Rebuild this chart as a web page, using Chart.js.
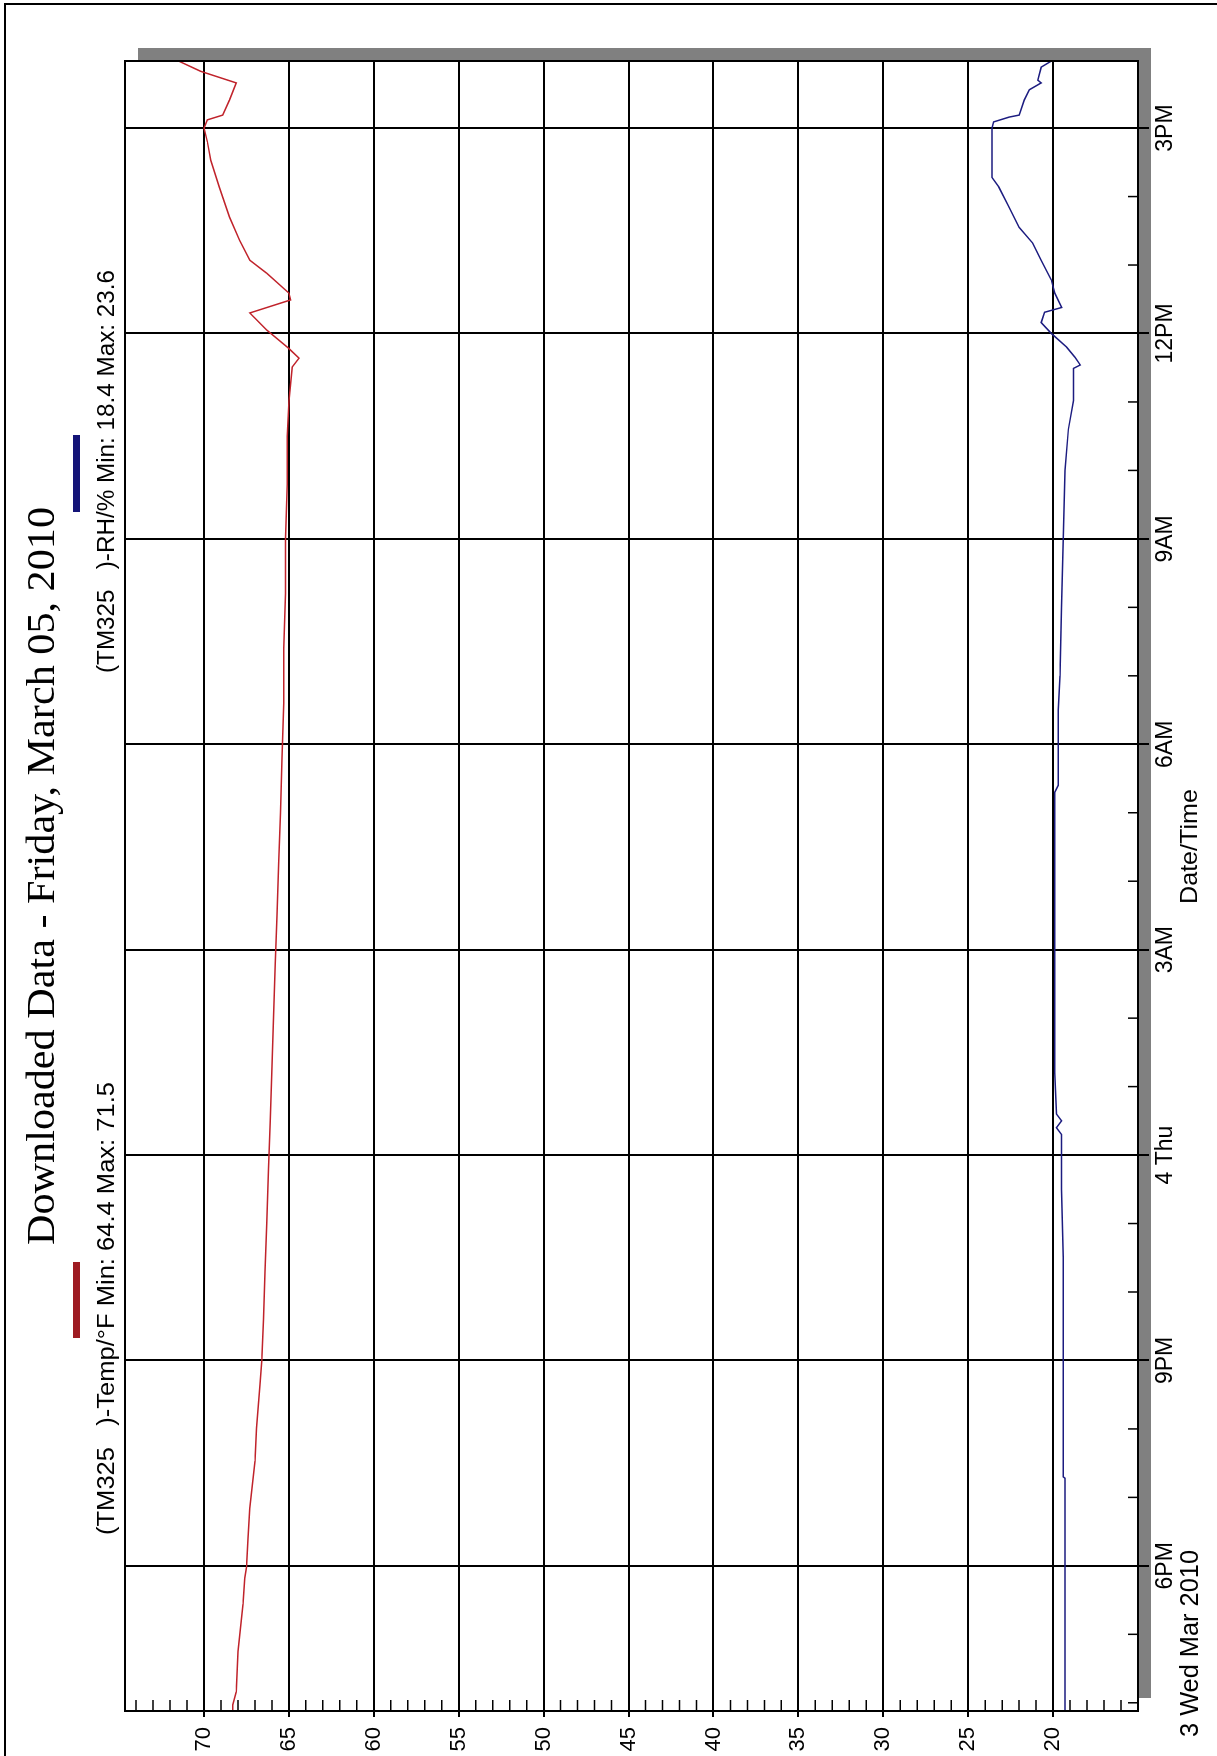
<!DOCTYPE html>
<html>
<head>
<meta charset="utf-8">
<script src="https://cdn.jsdelivr.net/npm/chart.js@4.4.1/dist/chart.umd.min.js"></script>
<style>
  html, body { margin: 0; padding: 0; background: #fff; overflow: hidden; }
  body { width: 1217px; height: 1756px; position: relative; }
  #wrap { position: absolute; left: 0; top: 0; width: 1756px; height: 1217px;
          transform-origin: 0 0; transform: translate(0, 1756px) rotate(-90deg); }
  #frame-left { position: absolute; left: 4px; top: 3px; width: 2px; height: 1753px; background: #000; }
  #frame-top { position: absolute; left: 4px; top: 3px; width: 1213px; height: 2px; background: #000; }
</style>
</head>
<body>
<div id="wrap"><canvas id="chart" width="1756" height="1217"></canvas></div>
<div id="frame-left"></div>
<div id="frame-top"></div>
<script>
// hours counted from 3 Mar 2010 00:00
const timeTickHours = [18, 21, 24, 27, 30, 33, 36, 39];
const timeTickLabels = ['6PM', '9PM', '4 Thu', '3AM', '6AM', '9AM', '12PM', '3PM'];
const valueTicks = [20, 25, 30, 35, 40, 45, 50, 55, 60, 65, 70];

const tempHours = [15.88, 15.97, 16.16, 16.75, 17.44, 17.82, 17.98, 18.40, 18.84, 19.53, 20.01, 20.65, 20.99,
  21.6, 22.3, 23.0, 23.8, 24.5, 25.3, 26.0, 26.8, 27.5, 28.3, 29.0, 29.8, 30.6, 31.4, 32.2, 33.0, 33.8, 34.5,
  35.02, 35.51, 35.64, 35.78, 36.05, 36.30, 36.49, 36.59, 36.88, 37.07, 37.36, 37.70, 38.14, 38.53, 38.80,
  39.00, 39.12, 39.19, 39.41, 39.66, 39.83, 39.98];
const tempValues = [68.3, 68.3, 68.1, 68.0, 67.7, 67.6, 67.5, 67.4, 67.3, 67.0, 66.9, 66.7, 66.6,
  66.5, 66.4, 66.3, 66.2, 66.1, 66.0, 65.9, 65.8, 65.7, 65.6, 65.5, 65.4, 65.3, 65.3, 65.2, 65.2, 65.1, 65.1,
  65.0, 64.8, 64.4, 65.0, 66.3, 67.3, 64.9, 65.0, 66.3, 67.3, 67.9, 68.5, 69.1, 69.6, 69.8,
  70.0, 69.8, 68.9, 68.5, 68.1, 70.2, 71.5];

const rhHours = [15.88, 17.0, 18.0, 19.28, 19.30, 21.0, 22.5, 23.5, 24.3, 24.4, 24.5, 24.6, 25.2, 27.0, 29.3,
  29.4, 30.5, 31.0, 32.0, 33.0, 34.0, 34.6, 35.02, 35.49, 35.54, 35.65, 35.80, 36.00, 36.16, 36.31, 36.38,
  36.59, 36.78, 37.07, 37.32, 37.55, 37.85, 38.14, 38.28, 39.00, 39.09, 39.16, 39.19, 39.41, 39.56, 39.66,
  39.70, 39.89, 39.98];
const rhValues = [19.3, 19.3, 19.3, 19.3, 19.4, 19.4, 19.4, 19.5, 19.5, 19.8, 19.5, 19.8, 19.9, 19.9, 19.9,
  19.7, 19.7, 19.6, 19.5, 19.4, 19.3, 19.1, 18.8, 18.8, 18.4, 18.7, 19.2, 20.1, 20.7, 20.5, 19.5,
  19.9, 20.1, 20.7, 21.2, 22.0, 22.6, 23.2, 23.6, 23.6, 23.5, 22.6, 22.0, 21.7, 21.4, 20.7,
  20.9, 20.7, 20.1];

const TITLE = 'Downloaded Data - Friday, March 05, 2010';
const RED = '#c0232b';
const BLUE = '#1c1c80';
const SANS = '"Liberation Sans", Arial, sans-serif';

const tempLegend = `(TM325   )-Temp/°F Min: ${Math.min(...tempValues).toFixed(1)} Max: ${Math.max(...tempValues).toFixed(1)}`;
const rhLegend = `(TM325   )-RH/% Min: ${Math.min(...rhValues).toFixed(1)} Max: ${Math.max(...rhValues).toFixed(1)}`;

function fitText(ctx, text, x, y, width, font, color) {
  ctx.save();
  ctx.font = font;
  ctx.fillStyle = color || '#000';
  ctx.textAlign = 'left';
  ctx.textBaseline = 'alphabetic';
  const w = ctx.measureText(text).width;
  ctx.translate(x, y);
  ctx.scale(width / w, 1);
  ctx.fillText(text, 0, 0);
  ctx.restore();
}

const framePlugin = {
  id: 'frame',
  beforeDraw(chart) {
    const { ctx, chartArea: a } = chart;
    ctx.save();
    ctx.fillStyle = '#fff';
    ctx.fillRect(0, 0, chart.width, chart.height);
    // drop shadow
    ctx.fillStyle = '#808080';
    ctx.fillRect(a.left + 13, a.top + 13, a.right - a.left, a.bottom - a.top);
    ctx.fillStyle = '#fff';
    ctx.fillRect(a.left, a.top, a.right - a.left, a.bottom - a.top);
    ctx.restore();
  },
  afterDraw(chart) {
    const { ctx, chartArea: a } = chart;
    const xs = chart.scales.x, ys = chart.scales.y;
    ctx.save();
    ctx.strokeStyle = '#000';
    ctx.lineWidth = 1.5;
    // minor ticks, inside the plot
    ctx.beginPath();
    for (let h = Math.ceil(xs.min); h < xs.max; h++) {
      if (timeTickHours.includes(h)) continue;
      const px = xs.getPixelForValue(h);
      ctx.moveTo(px, a.bottom);
      ctx.lineTo(px, a.bottom - 10);
    }
    for (let v = Math.ceil(ys.min) + 1; v < ys.max; v++) {
      if (valueTicks.includes(v)) continue;
      const py = ys.getPixelForValue(v);
      ctx.moveTo(a.left, py);
      ctx.lineTo(a.left + 11, py);
    }
    ctx.stroke();
    // plot box
    ctx.lineWidth = 2;
    ctx.strokeRect(a.left, a.top, a.right - a.left, a.bottom - a.top);
    ctx.restore();

    // title and legend
    fitText(ctx, TITLE, 511, 54, 738, '40px "Liberation Serif", "Times New Roman", serif');
    fitText(ctx, tempLegend, 221, 114, 453, '23px ' + SANS);
    fitText(ctx, rhLegend, 1083, 114, 403, '23px ' + SANS);
    ctx.save();
    ctx.fillStyle = '#9e1b22';
    ctx.fillRect(418, 73, 76, 7);
    ctx.fillStyle = '#141478';
    ctx.fillRect(1244, 73, 77, 7);
    ctx.restore();

    // second line of the time axis
    fitText(ctx, '3 Wed Mar 2010', 19, 1198, 187, '25px ' + SANS);
    fitText(ctx, 'Date/Time', 852, 1197, 115, '24px ' + SANS);
  }
};

const ctx = document.getElementById('chart').getContext('2d');
new Chart(ctx, {
  type: 'line',
  data: {
    datasets: [
      {
        label: 'Temp/°F',
        data: tempHours.map((h, i) => ({ x: h, y: tempValues[i] })),
        borderColor: RED,
        borderWidth: 1.5,
        pointRadius: 0,
        tension: 0
      },
      {
        label: 'RH/%',
        data: rhHours.map((h, i) => ({ x: h, y: rhValues[i] })),
        borderColor: BLUE,
        borderWidth: 1.5,
        pointRadius: 0,
        tension: 0
      }
    ]
  },
  options: {
    responsive: false,
    animation: false,
    layout: { padding: { left: 0, right: 61, top: 125, bottom: 0 } },
    plugins: {
      legend: { display: false },
      title: { display: false },
      tooltip: { enabled: false }
    },
    scales: {
      x: {
        type: 'linear',
        min: 15.88,
        max: 39.98,
        afterBuildTicks: s => { s.ticks = timeTickHours.map(v => ({ value: v })); },
        afterFit: s => { s.height = 1217 - 1138; },
        border: { display: false },
        grid: { color: '#000', lineWidth: 2, tickLength: 11, tickColor: '#000' },
        ticks: {
          autoSkip: false,
          maxRotation: 0,
          padding: 3,
          color: '#000',
          font: { family: SANS, size: 23 },
          callback: (v, i) => timeTickLabels[i]
        }
      },
      y: {
        min: 15,
        max: 74.65,
        afterBuildTicks: s => { s.ticks = valueTicks.map(v => ({ value: v })); },
        afterFit: s => { s.width = 45; },
        border: { display: false },
        grid: { color: '#000', lineWidth: 2, tickLength: 6, tickColor: '#000' },
        ticks: {
          padding: 10,
          color: '#000',
          font: { family: SANS, size: 22 },
          callback: v => String(v)
        }
      }
    }
  },
  plugins: [framePlugin]
});
</script>
</body>
</html>
